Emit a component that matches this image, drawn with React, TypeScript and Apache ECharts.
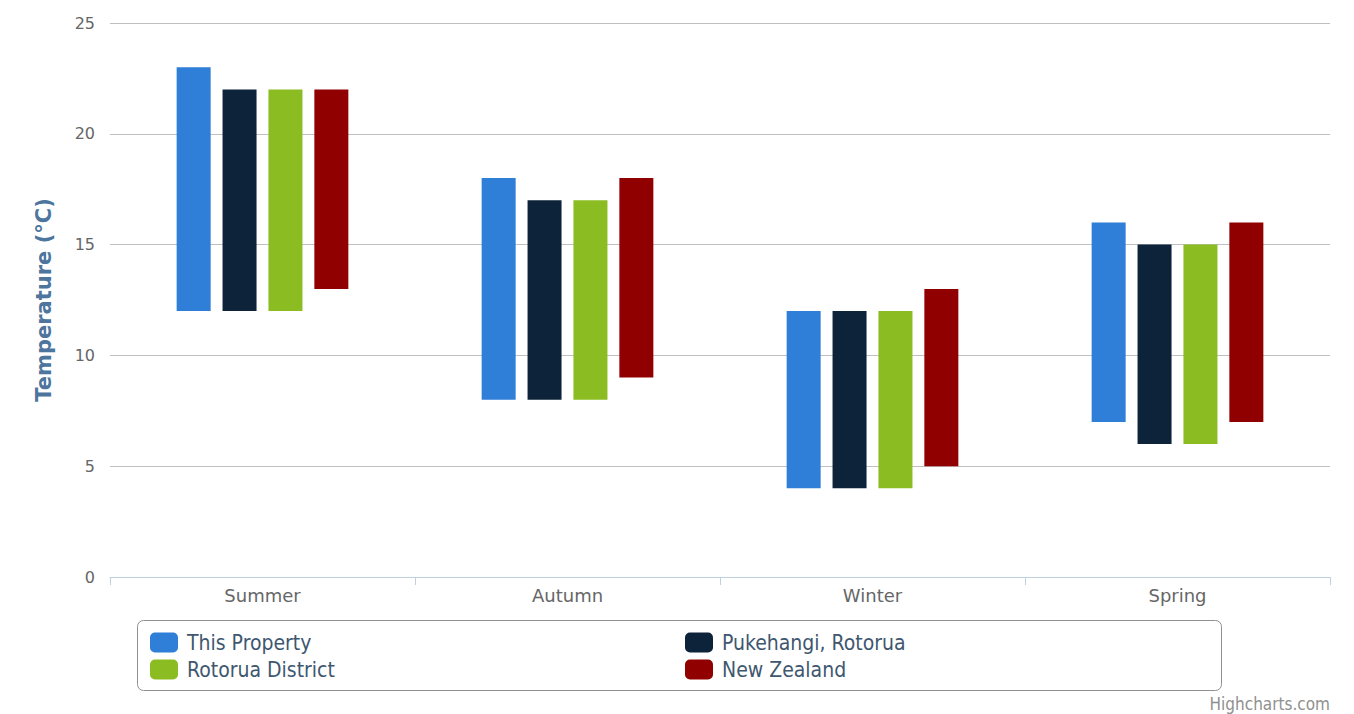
import React, { useEffect, useRef } from "react";
import * as echarts from "echarts";

const categories = ["Summer", "Autumn", "Winter", "Spring"];
const seriesNames = ["This Property", "Pukehangi, Rotorua", "Rotorua District", "New Zealand"];
const seriesColors = ["#2f7ed8", "#0d233a", "#8bbc21", "#910000"];
const lowValues = [
  [12, 8, 4, 7],
  [12, 8, 4, 6],
  [12, 8, 4, 6],
  [13, 9, 5, 7],
];
const highValues = [
  [23, 18, 12, 16],
  [22, 17, 12, 15],
  [22, 17, 12, 15],
  [22, 18, 13, 16],
];
const yTicks = { min: 0, max: 25, interval: 5 };

export default function App() {
  const ref = useRef<HTMLDivElement>(null);
  useEffect(() => {
    if (!ref.current) return;
    const chart = echarts.init(ref.current, undefined, { renderer: "svg" });
    const series: any[] = [];
    seriesNames.forEach((name, i) => {
      series.push({
        type: "bar",
        name: name + "__base",
        stack: "s" + i,
        barWidth: 34,
        barGap: "35%",
        silent: true,
        itemStyle: { color: "rgba(0,0,0,0)" },
        data: lowValues[i],
      });
      series.push({
        type: "bar",
        name,
        stack: "s" + i,
        barWidth: 34,
        barGap: "35%",
        itemStyle: { color: seriesColors[i] },
        data: highValues[i].map((h, j) => h - lowValues[i][j]),
      });
    });
    const legendCommon = {
      orient: "vertical",
      top: 632,
      itemWidth: 28,
      itemHeight: 20,
      itemGap: 6,
      icon: "roundRect",
      selectedMode: false,
      textStyle: {
        fontFamily: "DejaVu Sans Condensed",
        fontSize: 21,
        color: "#3e576f",
        padding: [0, 0, 0, 4],
      },
      padding: 0,
    };
    chart.setOption({
      animation: false,
      color: seriesColors,
      grid: { left: 110, right: 24, top: 23, bottom: 137 },
      legend: [
        { ...legendCommon, left: 150, data: [seriesNames[0], seriesNames[2]] },
        { ...legendCommon, left: 685, data: [seriesNames[1], seriesNames[3]] },
      ],
      xAxis: {
        type: "category",
        data: categories,
        axisLine: { lineStyle: { color: "#c0d0e0", width: 1 } },
        axisTick: { show: true, length: 8, lineStyle: { color: "#c0d0e0" } },
        axisLabel: {
          color: "#666666",
          fontFamily: "DejaVu Sans",
          fontSize: 18,
          margin: 9,
        },
      },
      yAxis: {
        type: "value",
        min: yTicks.min,
        max: yTicks.max,
        interval: yTicks.interval,
        name: "Temperature (°C)",
        nameLocation: "middle",
        nameGap: 56,
        nameRotate: 90,
        nameTextStyle: {
          color: "#4d759e",
          fontFamily: "DejaVu Sans",
          fontWeight: "bold",
          fontSize: 21,
        },
        axisLine: { show: false },
        axisTick: { show: false },
        splitLine: { lineStyle: { color: "#c0c0c0", width: 1 } },
        axisLabel: {
          color: "#666666",
          fontFamily: "DejaVu Sans",
          fontSize: 16,
          margin: 15,
        },
      },
      graphic: [
        {
          type: "rect",
          shape: { x: 137.5, y: 620.5, width: 1084, height: 70, r: 6 },
          style: { fill: "none", stroke: "#909090", lineWidth: 1 },
          silent: true,
        },
        {
          type: "text",
          right: 24,
          top: 695,
          style: {
            text: "Highcharts.com",
            fill: "#909090",
            fontFamily: "DejaVu Sans Condensed",
            fontSize: 17,
          },
        },
      ],
      series,
    });
    return () => chart.dispose();
  }, []);
  return (
    <div
      ref={ref}
      style={{ position: "fixed", left: 0, top: 0, width: 1354, height: 714, background: "#fff" }}
    />
  );
}
